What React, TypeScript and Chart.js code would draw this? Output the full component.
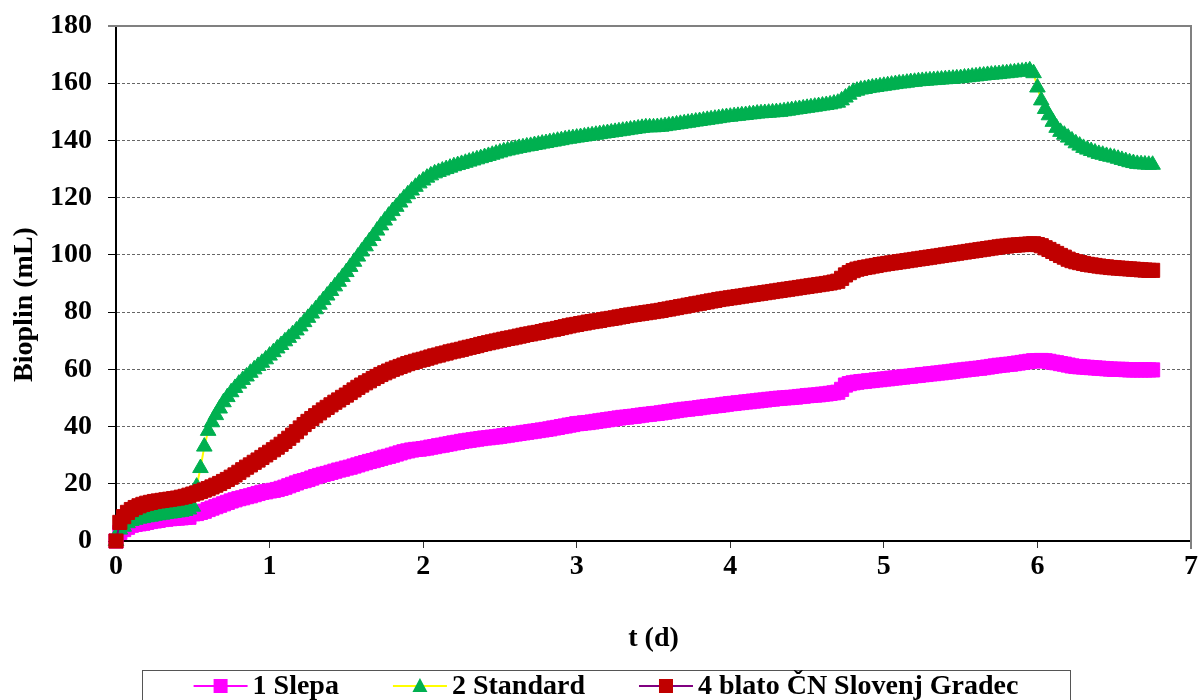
import React, { useEffect, useRef } from "react";
import { Chart, registerables } from "chart.js";

Chart.register(...registerables);

// time axis (days)
const tDays = [
  0, 0.025, 0.05, 0.075, 0.1, 0.125, 0.15, 0.175, 0.2, 0.225,
  0.25, 0.275, 0.3, 0.325, 0.35, 0.375, 0.4, 0.425, 0.45, 0.475,
  0.5, 0.525, 0.55, 0.575, 0.6, 0.625, 0.65, 0.675, 0.7, 0.725,
  0.75, 0.775, 0.8, 0.825, 0.85, 0.875, 0.9, 0.925, 0.95, 0.975,
  1.0, 1.025, 1.05, 1.075, 1.1, 1.125, 1.15, 1.175, 1.2, 1.225,
  1.25, 1.275, 1.3, 1.325, 1.35, 1.375, 1.4, 1.425, 1.45, 1.475,
  1.5, 1.525, 1.55, 1.575, 1.6, 1.625, 1.65, 1.675, 1.7, 1.725,
  1.75, 1.775, 1.8, 1.825, 1.85, 1.875, 1.9, 1.925, 1.95, 1.975,
  2.0, 2.025, 2.05, 2.075, 2.1, 2.125, 2.15, 2.175, 2.2, 2.225,
  2.25, 2.275, 2.3, 2.325, 2.35, 2.375, 2.4, 2.425, 2.45, 2.475,
  2.5, 2.525, 2.55, 2.575, 2.6, 2.625, 2.65, 2.675, 2.7, 2.725,
  2.75, 2.775, 2.8, 2.825, 2.85, 2.875, 2.9, 2.925, 2.95, 2.975,
  3.0, 3.025, 3.05, 3.075, 3.1, 3.125, 3.15, 3.175, 3.2, 3.225,
  3.25, 3.275, 3.3, 3.325, 3.35, 3.375, 3.4, 3.425, 3.45, 3.475,
  3.5, 3.525, 3.55, 3.575, 3.6, 3.625, 3.65, 3.675, 3.7, 3.725,
  3.75, 3.775, 3.8, 3.825, 3.85, 3.875, 3.9, 3.925, 3.95, 3.975,
  4.0, 4.025, 4.05, 4.075, 4.1, 4.125, 4.15, 4.175, 4.2, 4.225,
  4.25, 4.275, 4.3, 4.325, 4.35, 4.375, 4.4, 4.425, 4.45, 4.475,
  4.5, 4.525, 4.55, 4.575, 4.6, 4.625, 4.65, 4.675, 4.7, 4.725,
  4.75, 4.775, 4.8, 4.825, 4.85, 4.875, 4.9, 4.925, 4.95, 4.975,
  5.0, 5.025, 5.05, 5.075, 5.1, 5.125, 5.15, 5.175, 5.2, 5.225,
  5.25, 5.275, 5.3, 5.325, 5.35, 5.375, 5.4, 5.425, 5.45, 5.475,
  5.5, 5.525, 5.55, 5.575, 5.6, 5.625, 5.65, 5.675, 5.7, 5.725,
  5.75, 5.775, 5.8, 5.825, 5.85, 5.875, 5.9, 5.925, 5.95, 5.975,
  6.0, 6.025, 6.05, 6.075, 6.1, 6.125, 6.15, 6.175, 6.2, 6.225,
  6.25, 6.275, 6.3, 6.325, 6.35, 6.375, 6.4, 6.425, 6.45, 6.475,
  6.5, 6.525, 6.55, 6.575, 6.6, 6.625, 6.65, 6.675, 6.7, 6.725,
  6.75,
];

// 1 Slepa (mL)
const slepa = [
  0, 3, 4, 4.8, 5.5, 5.8, 6, 6.2, 6.5, 6.8,
  7, 7.2, 7.5, 7.6, 7.8, 7.9, 8, 8.1, 8.3, 8.3,
  9.5, 9.6, 10, 10.4, 11, 11.5, 12, 12.5, 13, 13.5,
  14, 14.4, 14.8, 15.1, 15.5, 15.8, 16.2, 16.6, 17, 17.2,
  17.5, 17.7, 18, 18.4, 18.8, 19.3, 19.8, 20.3, 20.8, 21.1,
  21.5, 22, 22.5, 22.9, 23.3, 23.6, 24, 24.4, 24.8, 25.1,
  25.5, 25.8, 26.2, 26.6, 27, 27.4, 27.8, 28.1, 28.5, 28.9,
  29.3, 29.6, 30, 30.4, 30.8, 31.2, 31.5, 31.8, 32, 32.1,
  32.3, 32.5, 32.8, 33, 33.3, 33.5, 33.8, 34, 34.3, 34.5,
  34.8, 35, 35.2, 35.4, 35.6, 35.8, 36, 36.1, 36.3, 36.4,
  36.6, 36.8, 37, 37.2, 37.4, 37.6, 37.8, 38, 38.2, 38.4,
  38.6, 38.8, 39, 39.2, 39.5, 39.7, 40, 40.2, 40.5, 40.7,
  41, 41.1, 41.3, 41.4, 41.6, 41.8, 42, 42.2, 42.4, 42.6,
  42.8, 43, 43.2, 43.3, 43.5, 43.6, 43.8, 44, 44.2, 44.3,
  44.5, 44.6, 44.8, 45, 45.2, 45.4, 45.6, 45.8, 46, 46.1,
  46.3, 46.4, 46.6, 46.8, 47, 47.1, 47.3, 47.4, 47.6, 47.8,
  48, 48.1, 48.3, 48.4, 48.6, 48.7, 48.9, 49, 49.2, 49.3,
  49.5, 49.6, 49.8, 49.9, 50, 50.1, 50.2, 50.3, 50.5, 50.6,
  50.8, 50.9, 51, 51.1, 51.3, 51.4, 51.6, 51.8, 52, 53,
  54.5, 55, 55.3, 55.5, 55.7, 55.8, 56, 56.1, 56.3, 56.4,
  56.6, 56.7, 56.9, 57, 57.2, 57.3, 57.5, 57.6, 57.8, 57.9,
  58.1, 58.2, 58.4, 58.5, 58.7, 58.8, 59, 59.1, 59.3, 59.5,
  59.7, 59.8, 60, 60.1, 60.3, 60.4, 60.6, 60.8, 61, 61.2,
  61.4, 61.5, 61.7, 61.8, 62, 62.2, 62.4, 62.6, 62.8, 63,
  63, 63.1, 63, 62.8, 62.5, 62.3, 62, 61.8, 61.5, 61.2,
  61, 60.9, 60.8, 60.7, 60.6, 60.5, 60.4, 60.3, 60.2, 60.1,
  60, 60, 60, 59.9, 59.8, 59.8, 59.8, 59.8, 59.8, 59.8,
  59.8,
];

// 2 Standard (mL)
const standard = [
  0, 4, 5, 6.2, 7, 7.4, 7.8, 8, 8.3, 8.5,
  8.8, 9, 9.2, 9.4, 9.6, 9.8, 10, 10.2, 10.5, 11,
  12, 19, 25.5, 33, 38.5, 41.5, 44, 46.3, 48.5, 50.3,
  52, 53.5, 55, 56.3, 57.5, 58.8, 60, 61.2, 62.3, 63.5,
  64.8, 66, 67.3, 68.5, 69.8, 71, 72.3, 73.6, 75, 76.5,
  78, 79.5, 81, 82.6, 84.2, 85.8, 87.4, 89, 90.6, 92.3,
  94, 95.8, 97.6, 99.4, 101.2, 103, 104.8, 106.6, 108.5, 110.3,
  112, 113.7, 115.3, 116.8, 118.3, 119.8, 121.2, 122.5, 123.8, 125,
  126, 127, 127.8, 128.5, 129, 129.5, 130, 130.5, 131, 131.4,
  131.8, 132.2, 132.6, 133, 133.4, 133.8, 134.2, 134.6, 135, 135.4,
  135.8, 136.2, 136.5, 136.8, 137.1, 137.4, 137.6, 137.9, 138.1, 138.4,
  138.6, 138.9, 139.1, 139.4, 139.6, 139.9, 140.1, 140.4, 140.6, 140.8,
  141, 141.2, 141.4, 141.6, 141.8, 142, 142.2, 142.4, 142.6, 142.8,
  143, 143.2, 143.4, 143.6, 143.8, 144, 144.2, 144.4, 144.6, 144.6,
  144.6, 144.7, 144.8, 145, 145.2, 145.4, 145.6, 145.8, 146, 146.2,
  146.4, 146.6, 146.8, 147, 147.2, 147.4, 147.6, 147.8, 148, 148.2,
  148.3, 148.5, 148.6, 148.8, 148.9, 149.1, 149.2, 149.4, 149.5, 149.6,
  149.7, 149.8, 149.9, 150, 150.2, 150.4, 150.6, 150.8, 151, 151.2,
  151.4, 151.6, 151.8, 152, 152.2, 152.4, 152.6, 152.9, 153.2, 154,
  155, 156, 157, 157.4, 157.8, 158, 158.3, 158.5, 158.7, 158.9,
  159.1, 159.3, 159.5, 159.7, 159.9, 160, 160.2, 160.4, 160.5, 160.7,
  160.8, 160.9, 161, 161.1, 161.2, 161.3, 161.4, 161.5, 161.6, 161.7,
  161.8, 162, 162.1, 162.3, 162.4, 162.6, 162.7, 162.9, 163, 163.1,
  163.2, 163.4, 163.5, 163.7, 163.8, 164, 164.1, 164.3, 164.5, 163.5,
  158.5, 154, 151, 148.8, 146.5, 144.4, 143, 142, 141, 140,
  139, 138.2, 137.4, 136.8, 136.3, 135.8, 135.3, 135, 134.6, 134.3,
  134, 133.6, 133.2, 132.8, 132.4, 132.1, 131.8, 131.7, 131.6, 131.5,
  131.5,
];

// 4 blato ČN Slovenj Gradec (mL)
const blato = [
  0, 6.5, 8.5, 10, 11, 11.7, 12.3, 12.8, 13.2, 13.5,
  13.8, 14, 14.2, 14.4, 14.6, 14.8, 15, 15.3, 15.6, 16,
  16.4, 16.8, 17.3, 17.8, 18.3, 18.9, 19.5, 20.1, 20.8, 21.5,
  22.3, 23.1, 24, 24.9, 25.8, 26.6, 27.5, 28.3, 29.2, 30.1,
  31, 31.9, 32.8, 33.8, 34.8, 35.9, 37, 38.2, 39.5, 40.7,
  41.8, 42.8, 43.8, 44.8, 45.8, 46.7, 47.6, 48.5, 49.3, 50.2,
  51, 51.9, 52.8, 53.7, 54.5, 55.3, 56, 56.8, 57.5, 58.2,
  58.8, 59.4, 60, 60.5, 61, 61.5, 62, 62.4, 62.8, 63.2,
  63.5, 63.9, 64.3, 64.7, 65, 65.4, 65.7, 66.1, 66.4, 66.7,
  67, 67.4, 67.7, 68, 68.3, 68.7, 69, 69.3, 69.6, 69.9,
  70.2, 70.5, 70.8, 71, 71.3, 71.6, 71.9, 72.2, 72.4, 72.7,
  72.9, 73.2, 73.5, 73.8, 74, 74.3, 74.6, 74.9, 75.2, 75.5,
  75.7, 76, 76.2, 76.5, 76.7, 76.9, 77.1, 77.4, 77.6, 77.8,
  78, 78.3, 78.5, 78.8, 79, 79.2, 79.4, 79.6, 79.8, 80,
  80.2, 80.4, 80.6, 80.9, 81.1, 81.4, 81.6, 81.9, 82.1, 82.4,
  82.6, 82.9, 83.1, 83.4, 83.6, 83.9, 84.1, 84.4, 84.6, 84.8,
  85, 85.2, 85.4, 85.6, 85.8, 86, 86.2, 86.4, 86.6, 86.8,
  87, 87.2, 87.4, 87.6, 87.8, 88, 88.2, 88.4, 88.6, 88.8,
  89, 89.2, 89.4, 89.6, 89.8, 90, 90.2, 90.5, 90.8, 91.8,
  93, 93.8, 94.5, 95, 95.3, 95.6, 95.8, 96.1, 96.3, 96.6,
  96.8, 97, 97.2, 97.4, 97.6, 97.8, 98, 98.2, 98.4, 98.6,
  98.8, 99, 99.2, 99.4, 99.6, 99.8, 100, 100.2, 100.4, 100.6,
  100.8, 101, 101.2, 101.4, 101.6, 101.8, 102, 102.2, 102.4, 102.6,
  102.8, 103, 103.1, 103.3, 103.4, 103.5, 103.6, 103.7, 103.8, 103.9,
  103.6, 103.2, 102.5, 101.9, 101.2, 100.5, 99.8, 99.2, 98.5, 98,
  97.6, 97.3, 97, 96.7, 96.5, 96.3, 96.1, 95.9, 95.8, 95.6,
  95.5, 95.4, 95.3, 95.2, 95.1, 95, 94.9, 94.8, 94.7, 94.6,
  94.6,
];

const seriesLabels = ["1 Slepa", "2 Standard", "4 blato ČN Slovenj Gradec"];
const xTitle = "t (d)";
const yTitle = "Bioplin (mL)";
const xMin = 0, xMax = 7, xStep = 1;
const yMin = 0, yMax = 180, yStep = 20;

const FONT = '"Liberation Serif", "Times New Roman", serif';
const fontSpec = { family: FONT, size: 28, weight: "bold" as const };

const toPoints = (vals: number[]) => tDays.map((t, i) => ({ x: t, y: vals[i] }));

const frameLegendPlugin = {
  id: "frameLegend",
  afterDraw(chart: any) {
    const { ctx, chartArea } = chart;
    ctx.save();
    // plot frame (top & right)
    ctx.strokeStyle = "#808080";
    ctx.lineWidth = 2;
    ctx.beginPath();
    ctx.moveTo(chartArea.left - 8, chartArea.top);
    ctx.lineTo(chartArea.right, chartArea.top);
    ctx.lineTo(chartArea.right, chartArea.bottom + 8);
    ctx.stroke();

    // y-axis title
    ctx.font = `bold 28px ${FONT}`;
    ctx.fillStyle = "#000";
    ctx.save();
    ctx.translate(25, (chartArea.top + chartArea.bottom) / 2 + 21);
    ctx.rotate(-Math.PI / 2);
    ctx.textAlign = "center";
    ctx.textBaseline = "middle";
    ctx.fillText(yTitle, 0, 0);
    ctx.restore();

    // legend
    const symbolW = 54, textGap = 5, itemGap = 54;
    const items = chart.data.datasets.map((ds: any) => ({
      ds,
      tw: ctx.measureText(ds.label).width,
    }));
    const total =
      items.reduce((s: number, it: any) => s + symbolW + textGap + it.tw, 0) +
      itemGap * (items.length - 1);
    const cx = chart.width / 2 + 5;
    const cy = 686;
    ctx.strokeStyle = "#555";
    ctx.lineWidth = 1;
    ctx.strokeRect(Math.round(cx - 464) + 0.5, 670.5, 928, 60);
    let x = cx - total / 2;
    items.forEach((it: any) => {
      const ds = it.ds;
      ctx.strokeStyle = ds.borderColor;
      ctx.lineWidth = 2;
      ctx.beginPath();
      ctx.moveTo(x, cy);
      ctx.lineTo(x + symbolW, cy);
      ctx.stroke();
      const mx = x + symbolW / 2;
      ctx.fillStyle = ds.pointBackgroundColor;
      if (ds.pointStyle === "triangle") {
        ctx.beginPath();
        ctx.moveTo(mx, cy - 8);
        ctx.lineTo(mx + 7.5, cy + 6);
        ctx.lineTo(mx - 7.5, cy + 6);
        ctx.closePath();
        ctx.fill();
      } else {
        ctx.fillRect(mx - 7, cy - 7, 14, 14);
      }
      ctx.fillStyle = "#000";
      ctx.textAlign = "left";
      ctx.textBaseline = "middle";
      ctx.fillText(ds.label, x + symbolW + textGap, cy + 1);
      x += symbolW + textGap + it.tw + itemGap;
    });
    ctx.restore();
  },
};

export default function App() {
  const canvasRef = useRef<HTMLCanvasElement | null>(null);

  useEffect(() => {
    if (!canvasRef.current) return;
    const chart = new Chart(canvasRef.current, {
      type: "line",
      data: {
        datasets: [
          {
            label: seriesLabels[0],
            data: toPoints(slepa),
            borderColor: "#FF00FF",
            borderWidth: 2,
            pointStyle: "rect",
            pointRadius: 10,
            pointBackgroundColor: "#FF00FF",
            pointBorderColor: "#FF00FF",
            pointBorderWidth: 1,
            tension: 0,
            clip: false,
            order: 3,
          },
          {
            label: seriesLabels[1],
            data: toPoints(standard),
            borderColor: "#FFFF00",
            borderWidth: 2,
            pointStyle: "triangle",
            pointRadius: 9,
            pointBackgroundColor: "#00B050",
            pointBorderColor: "#00B050",
            pointBorderWidth: 1,
            tension: 0,
            clip: false,
            order: 2,
          },
          {
            label: seriesLabels[2],
            data: toPoints(blato),
            borderColor: "#800080",
            borderWidth: 2,
            pointStyle: "rect",
            pointRadius: 10,
            pointBackgroundColor: "#C00000",
            pointBorderColor: "#C00000",
            pointBorderWidth: 1,
            tension: 0,
            clip: false,
            order: 1,
          },
        ],
      } as any,
      options: {
        animation: false,
        responsive: false,
        events: [],
        layout: { padding: { left: 0, right: 11, top: 26, bottom: 44 } },
        plugins: {
          legend: { display: false },
          tooltip: { enabled: false },
        },
        scales: {
          x: {
            type: "linear",
            min: xMin,
            max: xMax,
            ticks: { stepSize: xStep, padding: 2, color: "#000", font: fontSpec, maxRotation: 0 },
            grid: { drawOnChartArea: false, drawTicks: true, tickLength: 7, tickColor: "#333", tickWidth: 1 },
            border: { display: true, color: "#000", width: 2 },
            title: { display: true, text: xTitle, color: "#000", font: fontSpec, padding: 0 },
            afterFit: (s: any) => {
              s.height = 115;
            },
          },
          y: {
            type: "linear",
            min: yMin,
            max: yMax,
            ticks: { stepSize: yStep, padding: 16, color: "#000", font: fontSpec },
            grid: {
              color: (c: any) => (c.tick && c.tick.value === 0 ? "rgba(0,0,0,0)" : "#666"),
              lineWidth: 1,
              tickLength: 8,
              tickColor: "#000",
              tickWidth: 1,
            },
            border: { display: true, color: "#000", width: 2, dash: [3, 2] },
            title: { display: false, text: yTitle },
            afterFit: (s: any) => {
              s.width = 116;
              s.paddingTop = 0;
              s.paddingBottom = 0;
            },
          },
        },
      } as any,
      plugins: [frameLegendPlugin],
    });
    return () => chart.destroy();
  }, []);

  return (
    <div style={{ position: "fixed", left: 0, top: 0, width: 1202, height: 700, background: "#fff" }}>
      <canvas ref={canvasRef} width={1202} height={700} style={{ width: 1202, height: 700, display: "block" }} />
    </div>
  );
}
